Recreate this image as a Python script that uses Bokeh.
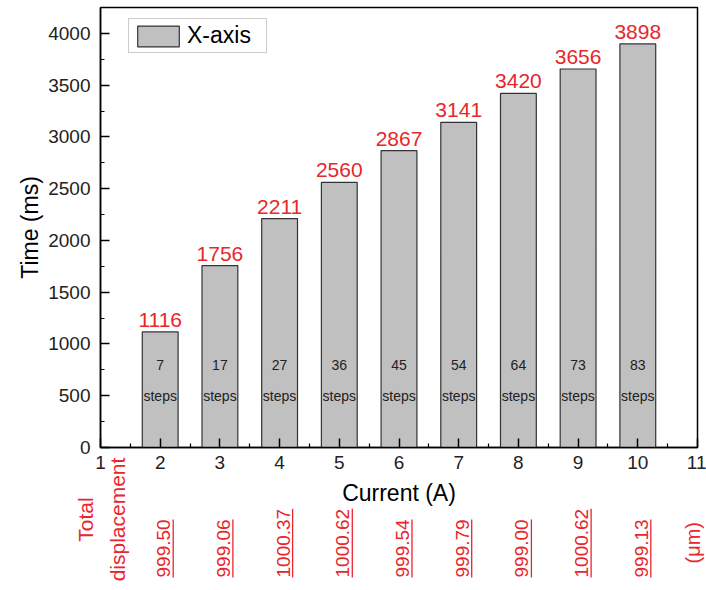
import numpy as np
from bokeh.plotting import figure
from bokeh.models import ColumnDataSource, FixedTicker, Range1d
from bokeh.core.properties import value
from bokeh.embed import file_html
from bokeh.resources import INLINE

# ---- data ----
current = [2, 3, 4, 5, 6, 7, 8, 9, 10]
time_ms = [1116, 1756, 2211, 2560, 2867, 3141, 3420, 3656, 3898]
steps = [7, 17, 27, 36, 45, 54, 64, 73, 83]
displacement = ["999.50", "999.06", "1000.37", "1000.62", "999.54",
                "999.79", "999.00", "1000.62", "999.13"]
x_ticks = list(range(1, 12))
x_minor = [t + 0.5 for t in range(1, 11)]
y_ticks = list(range(0, 4001, 500))
y_minor = list(range(250, 4250, 500))
legend_name = "X-axis"
x_title = "Current (A)"
y_title = "Time (ms)"
disp_title = "Total\ndisplacement"
disp_unit = "(μm)"

FONT = "Liberation Sans"
RED = "#e8262b"
X0, X1 = 1, 11            # box extent (x)
Y0, Y1 = 0, 4250          # box extent (y)

# ---- page geometry (pixels) ----
W, H = 706, 589
BOX_L, BOX_R, BOX_T, BOX_B = 100, 697, 7, 447
sx = (BOX_R - BOX_L) / (X1 - X0)
sy = (BOX_B - BOX_T) / (Y1 - Y0)


def ypx(py):
    """data y for a pixel row (rows below the box are negative)."""
    return Y0 - (py - BOX_B) / sy


# the frame covers the whole canvas; axes sit at fixed data locations
p = figure(width=W, height=H, output_backend="svg", toolbar_location=None,
           x_range=Range1d(X0 - BOX_L / sx, X0 + (W - BOX_L) / sx),
           y_range=Range1d(ypx(H), ypx(0)),
           min_border_left=0, min_border_right=0, min_border_top=0,
           min_border_bottom=0)
p.background_fill_color = "white"
p.border_fill_color = "white"
p.outline_line_color = None
p.xgrid.grid_line_color = None
p.ygrid.grid_line_color = None

src = ColumnDataSource(dict(
    current=current, time=time_ms,
    time_str=[str(v) for v in time_ms],
    steps_str=[str(s) for s in steps],
    steps_word=["steps"] * len(steps),
))

# plot box (top / right edges; bottom / left are the axes)
p.quad(left=[X0], right=[X1], bottom=[Y0], top=[Y1], fill_color=None,
       line_color="black", line_width=1.5)

p.vbar(x="current", top="time", width=0.6, bottom=0, source=src,
       fill_color="#c0c0c0", line_color="#333333", line_width=1.2,
       legend_label=legend_name)

p.text(x="current", y="time", text="time_str", source=src,
       text_align="center", text_baseline="middle", y_offset=-12,
       text_color=RED, text_font=value(FONT), text_font_size="21px")
p.text(x="current", y=800, text="steps_str", source=src,
       text_align="center", text_baseline="middle",
       text_color="#222222", text_font=value(FONT), text_font_size="14px")
p.text(x="current", y=500, text="steps_word", source=src,
       text_align="center", text_baseline="middle",
       text_color="#222222", text_font=value(FONT), text_font_size="14px")

# axes
xa = p.xaxis[0]
ya = p.yaxis[0]
xa.fixed_location = Y0
ya.fixed_location = X0
xa.bounds = (X0, X1)
ya.bounds = (Y0, Y1)
xa.ticker = FixedTicker(ticks=x_ticks, minor_ticks=x_minor)
ya.ticker = FixedTicker(ticks=y_ticks, minor_ticks=y_minor)
for ax in (xa, ya):
    ax.axis_line_width = 1.5
    ax.axis_line_color = "black"
    ax.major_tick_in = 9
    ax.major_tick_out = 0
    ax.minor_tick_in = 4
    ax.minor_tick_out = 0
    ax.major_tick_line_width = 1.5
    ax.minor_tick_line_width = 1.2
    ax.major_label_text_font = FONT
    ax.major_label_text_font_size = "19px"
    ax.major_label_text_color = "#222222"
    ax.axis_label_text_font = FONT
    ax.axis_label_text_font_size = "23px"
    ax.axis_label_text_font_style = "normal"
    ax.axis_label_text_color = "black"
xa.axis_label = x_title
ya.axis_label = y_title
xa.major_label_standoff = 8
xa.axis_label_standoff = 8
ya.major_label_standoff = 10
ya.axis_label_standoff = 2

# legend (location is measured from the frame's bottom-left corner)
lg = p.legend[0]
lg.location = (128, H - 53)
lg.glyph_width = 52
lg.glyph_height = 26
lg.label_width = 76
lg.label_standoff = 3
lg.padding = 3
lg.spacing = 0
lg.margin = 0
lg.border_line_color = "#999999"
lg.border_line_width = 1
lg.background_fill_color = "white"
lg.background_fill_alpha = 1
lg.label_text_font = FONT
lg.label_text_font_size = "23px"
lg.label_text_color = "black"

# red displacement row below the x axis
num_fs = 19
base_px = 577
lens = [num_fs * (0.556 * (len(s) - 1) + 0.278) for s in displacement]
src2 = ColumnDataSource(dict(
    current=current, disp=displacement,
    ux=[c + 13 / sx for c in current],
    lo=[ypx(base_px)] * len(current),
    hi=[ypx(base_px - L) for L in lens],
))
p.text(x="current", y="lo", text="disp", source=src2, angle=np.pi / 2,
       text_align="left", text_baseline="middle", x_offset=3.5,
       text_color=RED, text_font=value(FONT), text_font_size=f"{num_fs}px")
p.segment(x0="ux", y0="lo", x1="ux", y1="hi", source=src2,
          line_color=RED, line_width=1.3)
p.text(x=[X0 + 1 / sx], y=[ypx(519)], text=[disp_title], angle=np.pi / 2,
       text_align="center", text_baseline="middle", text_line_height=1.4,
       text_color=RED, text_font=value(FONT), text_font_size="21px")
p.text(x=[X1 - 5 / sx], y=[ypx(563)], text=[disp_unit], angle=np.pi / 2,
       text_align="left", text_baseline="middle",
       text_color=RED, text_font=value(FONT), text_font_size="20px")

open("out.html", "w").write(file_html(p, INLINE))
